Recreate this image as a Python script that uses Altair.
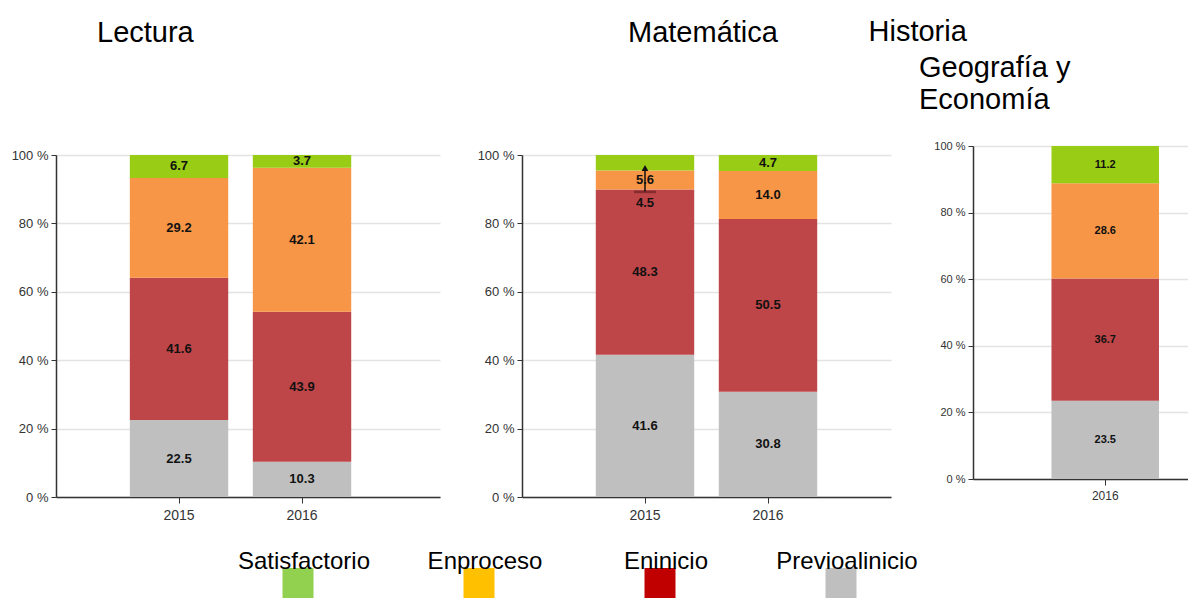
import altair as alt
import pandas as pd

# ---------------- data ----------------
levels = ["Previo al inicio", "En inicio", "En proceso", "Satisfactorio"]
bar_colors = ["#BFBFBF", "#BE4548", "#F79646", "#99CC14"]

lectura_years = ["2015", "2016"]
lectura_previo = [22.5, 10.3]
lectura_inicio = [41.6, 43.9]
lectura_proceso = [29.2, 42.1]
lectura_satisf = [6.7, 3.7]

mat_years = ["2015", "2016"]
mat_previo = [41.6, 30.8]
mat_inicio = [48.3, 50.5]
mat_proceso = [5.6, 14.0]
mat_satisf = [4.5, 4.7]

hist_years = ["2016"]
hist_previo = [23.5]
hist_inicio = [36.7]
hist_proceso = [28.6]
hist_satisf = [11.2]

# label drawn away from its segment in the original
shifted_labels = [("Matemática", "2015", "Satisfactorio")]

# small arrow annotation in Matemática 2015
ann_year = ["2015"]
ann_low = [89.2]
ann_high = [96.2]

legend_labels = ["Satisfactorio", "Enproceso", "Eninicio", "Previoalinicio"]
legend_colors = ["#92D050", "#FFC000", "#C00000", "#BFBFBF"]

AX = "Liberation Sans, Arial, sans-serif"
SANS = "Liberation Sans, Arial, sans-serif"


def long_rows(subject, years, series):
    rows = []
    for i, yr in enumerate(years):
        for k, (lvl, vals) in enumerate(zip(levels, series)):
            rows.append(dict(subject=subject, year=yr, level=lvl, order=k,
                             value=vals[i],
                             shifted=(subject, yr, lvl) in shifted_labels))
    return rows


rows = []
rows += long_rows("Lectura", lectura_years,
                  [lectura_previo, lectura_inicio, lectura_proceso, lectura_satisf])
rows += long_rows("Matemática", mat_years,
                  [mat_previo, mat_inicio, mat_proceso, mat_satisf])
rows += long_rows("Historia", hist_years,
                  [hist_previo, hist_inicio, hist_proceso, hist_satisf])
df = pd.DataFrame(rows)

ann_df = pd.DataFrame({"subject": ["Matemática"] * len(ann_year), "year": ann_year,
                       "low": ann_low, "high": ann_high})
leg_df = pd.DataFrame({"label": legend_labels, "color": legend_colors})


def panel(subject, width, height, yrange, xscale, axis_fs, xlab_fs, val_fs, title,
          ytitle=None):
    base = alt.Chart(df).transform_filter(alt.datum.subject == subject)
    ysc = alt.Scale(domain=[0, 100], range=yrange) if yrange else alt.Scale(domain=[0, 100])
    xaxis = alt.Axis(title=None, labelAngle=0, labelFont=AX, labelFontSize=xlab_fs,
                     labelColor="#333", domainColor="#333", domainWidth=1.5,
                     tickColor="#333", tickSize=6, labelPadding=5, grid=False)
    yaxis_kw = dict(values=[0, 20, 40, 60, 80, 100],
                    labelExpr="datum.value + ' %'", labelFont=AX,
                    labelFontSize=axis_fs, labelColor="#333", gridColor="#e3e3e3",
                    gridWidth=1.5, grid=True, domainColor="#333", domainWidth=1.5,
                    tickColor="#333", tickSize=5, labelPadding=3)
    if ytitle:
        yaxis_kw.update(titleAngle=0, titleX=-105, titleY=-115, titleAlign="left",
                        titleBaseline="middle", titleFont=SANS, titleFontSize=29,
                        titleFontWeight="normal", titleColor="black")
    yaxis = alt.Axis(**yaxis_kw)
    ytit = ytitle if ytitle else None
    xe = alt.X("year:N", title=None, scale=xscale, axis=xaxis)
    bars = base.mark_bar().encode(
        x=xe,
        y=alt.Y("value:Q", stack="zero", scale=ysc, axis=yaxis, title=ytit),
        color=alt.Color("level:N", scale=alt.Scale(domain=levels, range=bar_colors),
                        legend=None),
        order=alt.Order("order:Q"),
    )
    stacked = base.transform_stack(
        stack="value", groupby=["year"], as_=["y0", "y1"],
        sort=[alt.SortField("order", order="ascending")],
    ).transform_calculate(mid="(datum.y0 + datum.y1) / 2")
    txt = dict(font=AX, fontWeight="bold", fontSize=val_fs, color="#111")
    labels = stacked.transform_filter("!datum.shifted").mark_text(**txt).encode(
        x=xe,
        y=alt.Y("mid:Q", title=ytit),
        text=alt.Text("value:Q", format=".1f"),
    )
    labels_shift = stacked.transform_filter("datum.shifted").mark_text(dy=40, **txt).encode(
        x=xe,
        y=alt.Y("mid:Q", title=ytit),
        text=alt.Text("value:Q", format=".1f"),
    )
    layers = [bars, labels, labels_shift]
    if subject == "Matemática":
        ab = alt.Chart(ann_df)
        layers.append(ab.mark_rule(color="#111", strokeWidth=1.5).encode(
            x=xe, y=alt.Y("low:Q", title=None), y2="high:Q"))
        layers.append(ab.mark_point(shape="triangle-up", filled=True, size=45,
                                    color="#111", opacity=1).encode(
            x=xe, y=alt.Y("high:Q", title=None)))
        layers.append(ab.mark_tick(color="#6b2225", size=22, thickness=2.5).encode(
            x=xe, y=alt.Y("low:Q", title=None)))
    return alt.layer(*layers).properties(width=width, height=height, title=title)


title_common = dict(anchor="start", frame="group", font=SANS, fontSize=29,
                    fontWeight="normal", color="black")

p1 = panel("Lectura", 384, 351, [351, 9],
           alt.Scale(paddingInner=0.2, paddingOuter=0.661, align=0.454), 13, 14, 13,
           alt.TitleParams(text="Lectura", dx=41, offset=98, **title_common))
p2 = panel("Matemática", 369, 351, [351, 9],
           alt.Scale(paddingInner=0.2, paddingOuter=0.6), 13, 14, 13,
           alt.TitleParams(text="Matemática", dx=106, offset=98, **title_common))
p3 = panel("Historia", 215, 333, None,
           alt.Scale(paddingInner=0, paddingOuter=0.5, align=0.73), 11, 12, 11,
           alt.TitleParams(text=["Geografía y", "Economía"], dx=-54, dy=123, offset=25,
                           lineHeight=32, **title_common),
           ytitle="Historia")

legend_base = alt.Chart(leg_df)
lx = alt.X("label:N", sort=legend_labels, axis=None,
           scale=alt.Scale(paddingInner=0, paddingOuter=0.837))
leg_sq = legend_base.mark_bar(width=31).encode(
    x=lx, y=alt.value(17), y2=alt.value(47), color=alt.Color("color:N", scale=None))
leg_tx = legend_base.mark_text(font=SANS, fontSize=24, color="black", dx=6,
                               baseline="middle").encode(
    x=lx, y=alt.value(11), text="label:N")
legend = alt.layer(leg_sq, leg_tx).properties(width=1027, height=47)

top = alt.hconcat(p1, p2, p3, spacing=82, bounds="flush")
chart = alt.vconcat(top, legend, spacing=28).properties(
    padding={"left": 3, "top": 9, "right": 0, "bottom": 0}
).configure_view(stroke=None)

chart.save("out.html", embed_options={"renderer": "svg", "actions": False})
